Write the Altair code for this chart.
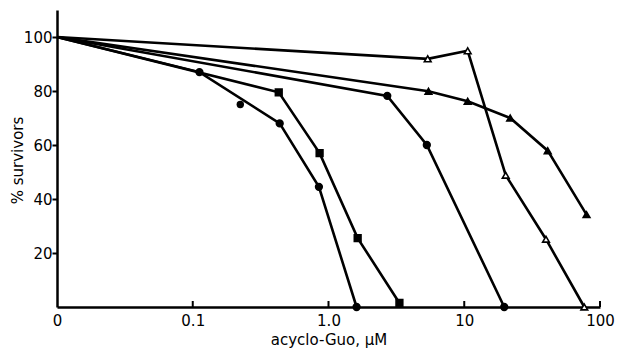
import altair as alt
import pandas as pd

# Data (x in µM; "0" plotted at 0.01)
a_x = [0.01, 0.112, 0.437, 0.85, 1.61]
a_y = [100, 87, 68, 44.5, 0]
b_x = [0.01, 0.43, 0.86, 1.64, 3.33]
b_y = [100, 79.5, 57, 25.5, 1.5]
c_x = [0.01, 2.71, 5.3, 19.7]
c_y = [100, 78.2, 60, 0]
d_x = [0.01, 5.38, 10.6, 20.2, 40, 76.6]
d_y = [100, 91.9, 94.9, 48.8, 25.1, 0]
e_x = [0.01, 5.45, 10.6, 21.8, 41.2, 79.6]
e_y = [100, 79.9, 76.2, 70, 57.9, 34.2]
stray_x = [0.224]
stray_y = [75]

x_ticks = [0.01, 0.1, 1, 10, 100]
x_tick_marks = [0.1, 1, 10, 100]
y_ticks = [20, 40, 60, 80, 100]

series = ["A", "B", "C", "D", "E"]
shapes = ["circle", "square", "circle", "triangle-up", "triangle-up"]
fills = ["black", "black", "black", "white", "black"]

rows = []
for name, xs, ys in zip(series, [a_x, b_x, c_x, d_x, e_x], [a_y, b_y, c_y, d_y, e_y]):
    for i, (xv, yv) in enumerate(zip(xs, ys)):
        rows.append({"series": name, "x": xv, "y": yv, "i": i})
df = pd.DataFrame(rows)
pts = df[df["i"] > 0]
stray = pd.DataFrame({"series": ["A"], "x": stray_x, "y": stray_y})
ticks_df = pd.DataFrame({"x": x_tick_marks})

xscale = alt.Scale(type="log", domain=[0.01, 100], nice=False)
yscale = alt.Scale(domain=[0, 110], nice=False)

xaxis = alt.Axis(values=x_ticks, ticks=False, grid=False, labelFlush=False,
                 labelExpr="datum.value < 0.05 ? '0' : datum.value < 0.5 ? '0.1' : datum.value < 5 ? '1.0' : datum.value < 50 ? '10' : '100'",
                 title="acyclo-Guo, μM", labelPadding=6, titlePadding=4)
yaxis = alt.Axis(values=y_ticks, grid=False, tickSize=5, labelPadding=0, labelFlush=False,
                 title="% survivors", titleX=-40, titleY=150, titleAngle=-90,
                 titleAlign="center", titleBaseline="middle")

lines = alt.Chart(df).mark_line(color="black", strokeWidth=2.6).encode(
    x=alt.X("x:Q", scale=xscale, axis=xaxis),
    y=alt.Y("y:Q", scale=yscale, axis=yaxis),
    detail="series:N",
    order=alt.Order("i:Q"),
)

points = alt.Chart(pts).mark_point(size=45, strokeWidth=1.6, opacity=1, color="black").encode(
    x=alt.X("x:Q", scale=xscale),
    y=alt.Y("y:Q", scale=yscale),
    shape=alt.Shape("series:N", scale=alt.Scale(domain=series, range=shapes), legend=None),
    fill=alt.Fill("series:N", scale=alt.Scale(domain=series, range=fills), legend=None),
)

stray_pts = alt.Chart(stray).mark_point(size=55, shape="circle", filled=True, color="black", opacity=1).encode(
    x=alt.X("x:Q", scale=xscale),
    y=alt.Y("y:Q", scale=yscale),
)

tick_rules = alt.Chart(ticks_df).mark_rule(color="black", strokeWidth=2).encode(
    x=alt.X("x:Q", scale=xscale),
    y=alt.value(297),
    y2=alt.value(291),
)

chart = alt.layer(lines, points, stray_pts, tick_rules).properties(
    width=543, height=297,
    autosize=alt.AutoSizeParams(type="none"),
    padding={"left": 49, "top": 2, "right": 16, "bottom": 44},
).configure_view(stroke=None).configure_axis(
    labelFont="DejaVu Sans", labelFontSize=15, labelColor="black",
    titleFont="DejaVu Sans", titleFontSize=15, titleFontWeight="normal", titleColor="black",
    domainColor="black", domainWidth=2.5, tickColor="black", tickWidth=2,
)

chart.save("out.html", embed_options={"renderer": "svg", "actions": False})
